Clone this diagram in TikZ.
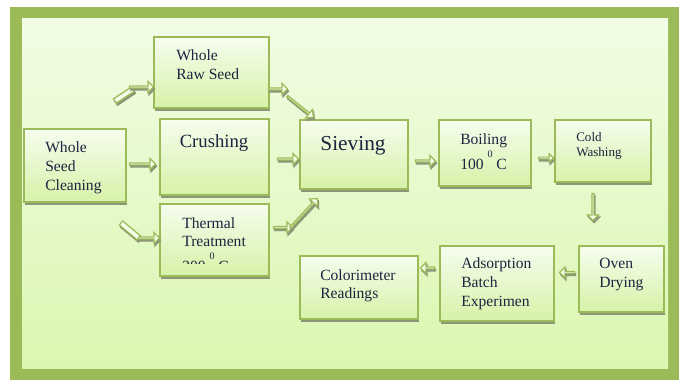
\documentclass[tikz,border=0pt]{standalone}
\usepackage{fontspec}
\setmainfont{Liberation Serif}
\usetikzlibrary{shapes.arrows,shadows,fit,calc}
\definecolor{frame}{HTML}{9BBB59}
\definecolor{bgtop}{HTML}{F1FCE5}
\definecolor{bgbot}{HTML}{DAF7B0}
\definecolor{boxtop}{HTML}{F6FDEE}
\definecolor{boxbot}{HTML}{D6F2A8}
\definecolor{shadowc}{HTML}{8C977A}
\definecolor{txtc}{HTML}{1C2440}
\definecolor{arrfill}{HTML}{F5FDEA}
\newcommand\mylines[1]{\begin{tabular}[t]{@{}l@{}}#1\end{tabular}}
\newcommand\supo{\raisebox{9pt}{\fontsize{7.5}{8}\selectfont 0}}
\tikzset{
  box/.style={rectangle, draw=frame, line width=1.5pt, top color=boxtop, bottom color=boxbot,
    inner sep=0pt, drop shadow={shadow xshift=0.6pt, shadow yshift=-2.4pt, fill=shadowc, opacity=1}},
  txt/.style={anchor=base west, inner sep=0pt, text=txtc, font=\fontsize{11.7}{14.25}\selectfont},
  bigtxt/.style={anchor=base, inner sep=0pt, text=txtc},
  barr/.style={single arrow, draw=frame, line width=0.9pt, fill=arrfill, inner sep=0pt,
    minimum width=8.25pt, single arrow head extend=2.2pt, single arrow tip angle=90,
    sloped, allow upside down},
  sbarr/.style={barr, minimum width=6.3pt, single arrow head extend=1.7pt},
  bshaft/.style={rectangle, draw=frame, line width=0.9pt, fill=arrfill, inner sep=0pt,
    minimum height=3.9pt, sloped, allow upside down},
  shadowsty/.style={fill=shadowc, draw=shadowc},
}
% block arrow from #2 to #3
\newcommand\blkarr[3][barr]{%
  \path let \p1=(#2), \p2=(#3), \n1={veclen(\x2-\x1,\y2-\y1)} in
    ($(#2)+(0.8pt,-1.6pt)$) -- ($(#3)+(0.8pt,-1.6pt)$)
      node[midway, #1, shadowsty, minimum height=\n1] {}
    (#2) -- (#3) node[midway, #1, minimum height=\n1] {};}
% shaft (no head) from #1 to #2
\newcommand\blkshaft[2]{%
  \path let \p1=(#1), \p2=(#2), \n1={veclen(\x2-\x1,\y2-\y1)} in
    ($(#1)+(0.8pt,-1.6pt)$) -- ($(#2)+(0.8pt,-1.6pt)$)
      node[midway, bshaft, shadowsty, minimum width=\n1] {}
    (#1) -- (#2) node[midway, bshaft, minimum width=\n1] {};}
\begin{document}
\begin{tikzpicture}[x=0.75pt, y=-0.75pt]
\useasboundingbox (0,0) rectangle (683,381);
% frame
\fill[frame] (10,7) rectangle (679,380);
\shade[top color=bgtop, bottom color=bgbot] (22,19) rectangle (668,369);

% boxes
\node[box, fit={(154,37) (269,108)}] (raw) {};
\node[box, fit={(160,119) (269,195)}] (crush) {};
\node[box, fit={(24,129) (126,202)}] (clean) {};
\node[box, fit={(160,204) (269,276)}] (therm) {};
\node[box, fit={(300,120) (408,189)}] (siev) {};
\node[box, fit={(439,120) (531,186)}] (boil) {};
\node[box, fit={(555,120) (651,182)}] (cold) {};
\node[box, fit={(579,246) (664,312)}] (oven) {};
\node[box, fit={(440,246) (554,321)}] (adsorb) {};
\node[box, fit={(300,256) (418,319)}] (color) {};

% texts
\node[txt] (rawt) at (176,61) {\mylines{Whole\\Raw Seed}};
\node[bigtxt, font=\fontsize{14}{16}\selectfont] (crusht) at (214,148) {Crushing};
\node[txt, font=\fontsize{11.7}{14}\selectfont] (cleant) at (45,152.7) {\mylines{Whole\\Seed\\Cleaning}};
\begin{scope}
  \clip (161,205) rectangle (268,264);
  \node[txt, font=\fontsize{11.7}{13.5}\selectfont] (thermt) at (182,229) {\mylines{Thermal\\Treatment\\200 \supo{} C}};
\end{scope}
\node[bigtxt, font=\fontsize{16}{18}\selectfont] (sievt) at (353,150.7) {Sieving};
\node[txt] (boilt) at (460,145) {\mylines{Boiling\\100 \supo{} C}};
\node[txt, font=\fontsize{9.8}{11.25}\selectfont] (coldt) at (576,142) {\mylines{Cold\\Washing}};
\node[txt] (ovent) at (599,269) {\mylines{Oven\\Drying}};
\node[txt] (adsorbt) at (461,269) {\mylines{Adsorption\\Batch\\Experimen}};
\node[txt, font=\fontsize{11.7}{13.5}\selectfont] (colort) at (320,281) {\mylines{Colorimeter\\Readings}};

% arrow end points
\coordinate (a1s) at (115,101);   \coordinate (a1e) at (133,89);
\coordinate (a2s) at (129,87);    \coordinate (a2e) at (153,87);
\coordinate (a3s) at (268,89);    \coordinate (a3e) at (287,89);
\coordinate (a4s) at (287,96);    \coordinate (a4e) at (313,117);
\coordinate (a5s) at (129,164);   \coordinate (a5e) at (155,164);
\coordinate (a6s) at (277,159);   \coordinate (a6e) at (298,159);
\coordinate (a7s) at (121,223);   \coordinate (a7e) at (139,238);
\coordinate (a8s) at (138,238);   \coordinate (a8e) at (159,238);
\coordinate (a9s) at (273,227.5); \coordinate (a9e) at (292,227.5);
\coordinate (a10s) at (290,228);  \coordinate (a10e) at (317,199);
\coordinate (a11s) at (415,161);  \coordinate (a11e) at (435,161);
\coordinate (a12s) at (538,158);  \coordinate (a12e) at (553,158);
\coordinate (a13s) at (593,193);  \coordinate (a13e) at (593,220);
\coordinate (a14s) at (575,272.5);\coordinate (a14e) at (560,272.5);
\coordinate (a15s) at (435,268);  \coordinate (a15e) at (421,268);

% arrows
\blkshaft{a1s}{a1e}
\blkarr{a2s}{a2e}
\blkarr{a3s}{a3e}
\blkarr{a4s}{a4e}
\blkarr{a5s}{a5e}
\blkarr{a6s}{a6e}
\blkshaft{a7s}{a7e}
\blkarr{a8s}{a8e}
\blkarr{a9s}{a9e}
\blkarr{a10s}{a10e}
\blkarr{a11s}{a11e}
\blkarr[sbarr]{a12s}{a12e}
\blkarr{a13s}{a13e}
\blkarr{a14s}{a14e}
\blkarr{a15s}{a15e}
\end{tikzpicture}
\end{document}
